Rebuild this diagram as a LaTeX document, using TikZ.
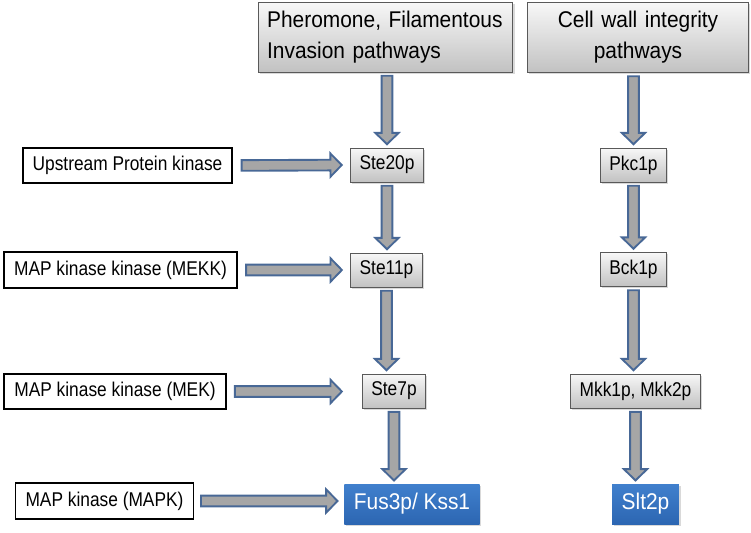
\documentclass[tikz,border=0pt]{standalone}
\usepackage{fontspec}
\setmainfont{Liberation Sans}[FakeStretch=0.92]
\newfontfamily\stepfont{Liberation Sans}[FakeStretch=0.87]
\usetikzlibrary{calc,shadows}

\definecolor{arrowedge}{RGB}{72,104,150}
\definecolor{arrowfill}{RGB}{166,166,166}
\definecolor{mapkblue}{RGB}{64,128,205}
\definecolor{mapkdark}{RGB}{44,102,178}

\tikzset{
    blockarrow/.style = {draw=arrowedge, fill=arrowfill, line width=1.6pt, line join=miter,
        to path={let \p1=(\tikztostart), \p2=(\tikztotarget),
            \n1={veclen(\x2-\x1,\y2-\y1)}, \n2={atan2(\y2-\y1,\x2-\x1)} in
            {[shift={(\p1)}, rotate=\n2]
             (#1,-1.6mm) -- (\n1-#1-3.4mm,-1.6mm) -- (\n1-#1-3.4mm,-3.5mm) -- (\n1-#1,0)
             -- (\n1-#1-3.4mm,3.5mm) -- (\n1-#1-3.4mm,1.6mm) -- (#1,1.6mm) -- cycle}}},
    blockarrow/.default = 1mm
}

\begin{document}
\begin{tikzpicture}[x=0.3mm, y=-0.3mm,
    greybox/.style = {draw=black!65, line width=0.8pt, top color=black!3, bottom color=black!24,
        drop shadow={shadow xshift=0.5mm, shadow yshift=-0.5mm, opacity=0.3}},
    stepbox/.style = {greybox, minimum height=10.2mm, inner xsep=2.7mm, font=\stepfont\fontsize{17}{20}\selectfont},
    headbox/.style = {greybox, minimum height=21mm, inner xsep=2.7mm, font=\fontsize{19.4}{26.5}\selectfont},
    levelbox/.style = {draw=black, line width=1.6pt, fill=white, minimum height=10.6mm, inner xsep=3mm,
        font=\stepfont\fontsize{17}{20}\selectfont},
    mapkbox/.style = {top color=mapkblue, bottom color=mapkdark, text=white, minimum height=12mm,
        inner xsep=2.85mm, font=\fontsize{19.4}{23}\selectfont,
        drop shadow={shadow xshift=0.5mm, shadow yshift=-0.5mm, opacity=0.3}}]

\useasboundingbox (0,0) rectangle (751,532);

% pathway heads
\node[headbox, text width=71mm, align=left] (pher) at (385.5,37) {Pheromone, Filamentous\\Invasion pathways};
\node[headbox, text width=61mm, align=center] (cell) at (638,37.5) {Cell wall integrity\\pathways};

% kinase levels
\node[levelbox] (up)   at (127.5,165.5) {Upstream Protein kinase};
\node[levelbox] (mekk) at (120.5,270)   {MAP kinase kinase (MEKK)};
\node[levelbox] (mek)  at (115,391.5)   {MAP kinase kinase (MEK)};
\node[levelbox] (mapk) at (104.5,501)   {MAP kinase (MAPK)};

% pheromone pathway
\node[stepbox] (ste20) at (387,165)   {Ste20p};
\node[stepbox] (ste11) at (386.5,270) {Ste11p};
\node[stepbox] (ste7)  at (394,391)   {Ste7p};
\node[mapkbox] (fus)   at (412,504)   {Fus3p/ Kss1};

% cell wall pathway
\node[stepbox] (pkc) at (633.5,165)   {Pkc1p};
\node[stepbox] (bck) at (633.5,269.5) {Bck1p};
\node[stepbox] (mkk) at (635.5,391)   {Mkk1p, Mkk2p};
\node[mapkbox] (slt) at (645.5,504)   {Slt2p};

% vertical arrows
\draw[blockarrow] (ste20 |- pher.south) to (ste20.north);
\draw[blockarrow] (ste20.south) to (ste20 |- ste11.north);
\draw[blockarrow] (ste11.south) to (ste11 |- ste7.north);
\draw[blockarrow] (ste7.south) to (ste7 |- fus.north);
\draw[blockarrow] (pkc |- cell.south) to (pkc.north);
\draw[blockarrow] (pkc.south) to (pkc |- bck.north);
\draw[blockarrow] (bck.south) to (bck |- mkk.north);
\draw[blockarrow] (mkk.south) to (mkk |- slt.north);

% level arrows
\draw[blockarrow=2.5mm] (up.east) to (ste20.west);
\draw[blockarrow=2.5mm] (mekk.east) to (mekk -| ste11.west);
\draw[blockarrow=2.5mm] (mek.east) to (mek -| ste11.west);
\draw[blockarrow=2mm] (mapk.east) to (mapk -| fus.west);

\end{tikzpicture}
\end{document}
